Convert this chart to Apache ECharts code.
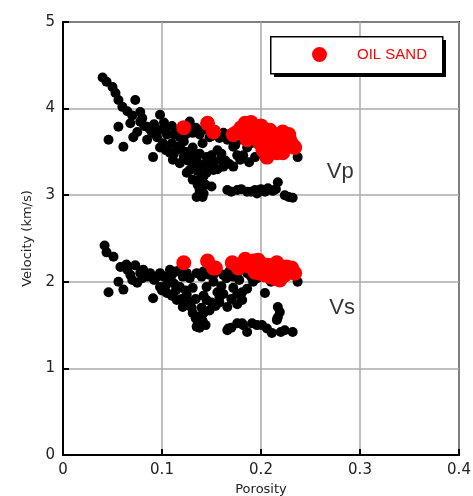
<!DOCTYPE html>
<html>
<head>
<meta charset="utf-8">
<script src="https://cdn.jsdelivr.net/npm/echarts@6/dist/echarts.min.js"></script>
<style>
  html, body { margin: 0; padding: 0; background: #fff; }
  #chart { width: 473px; height: 496px; }
</style>
</head>
<body>
<div id="chart"></div>
<script>
  // porosity / velocity pairs
  var vpBlack = [
    [0.040,4.36],[0.044,4.31],[0.050,4.25],[0.053,4.18],[0.056,4.10],[0.060,4.02],[0.073,4.10],[0.065,3.97],
    [0.070,3.92],[0.078,3.96],[0.080,3.89],[0.098,3.93],[0.056,3.79],[0.068,3.83],[0.046,3.64],[0.061,3.56],
    [0.071,3.67],[0.075,3.73],[0.085,3.64],[0.085,3.79],[0.078,3.85],[0.090,3.72],[0.095,3.67],[0.095,3.75],
    [0.091,3.44],[0.101,3.60],[0.105,3.79],[0.105,3.70],[0.108,3.49],[0.111,3.41],[0.115,3.56],[0.115,3.73],
    [0.118,3.67],[0.118,3.37],[0.122,3.62],[0.125,3.26],[0.125,3.50],[0.128,3.29],[0.128,3.85],[0.131,3.72],
    [0.131,3.18],[0.131,3.55],[0.135,3.41],[0.135,2.98],[0.138,3.18],[0.138,3.06],[0.141,2.98],[0.141,3.60],
    [0.141,3.35],[0.145,3.26],[0.145,3.44],[0.148,3.67],[0.150,3.10],[0.152,3.29],[0.154,3.75],[0.156,3.52],
    [0.159,3.41],[0.162,3.33],[0.166,3.06],[0.169,3.70],[0.172,3.33],[0.172,3.56],[0.174,3.58],[0.179,3.41],
    [0.184,3.64],[0.186,3.04],[0.186,3.55],[0.194,3.06],[0.194,3.44],[0.201,3.52],[0.207,3.08],[0.212,3.05],
    [0.217,3.15],[0.224,3.00],[0.232,2.97],[0.237,3.44],[0.176,3.06],[0.200,3.07],
    [0.082,3.80],[0.088,3.76],[0.092,3.82],[0.100,3.76],[0.102,3.84],[0.110,3.80],[0.112,3.70],[0.120,3.76],
    [0.124,3.70],[0.134,3.78],[0.138,3.70],[0.142,3.76],[0.150,3.68],[0.158,3.66],[0.162,3.72],[0.166,3.64],
    [0.178,3.64],[0.190,3.60],[0.098,3.55],[0.104,3.52],[0.110,3.60],[0.112,3.48],[0.120,3.52],[0.122,3.44],
    [0.126,3.40],[0.130,3.46],[0.132,3.34],[0.136,3.28],[0.138,3.48],[0.142,3.22],[0.144,3.12],[0.140,3.08],
    [0.146,3.36],[0.150,3.46],[0.152,3.38],[0.156,3.30],[0.160,3.48],[0.164,3.40],[0.168,3.36],[0.176,3.46],
    [0.182,3.46],[0.188,3.38],[0.142,3.02],[0.136,3.12],[0.170,3.04],[0.180,3.07],[0.190,3.04],[0.204,3.04],
    [0.215,3.07],[0.228,2.98],[0.196,3.02]
  ];
  var vsBlack = [
    [0.042,2.42],[0.044,2.34],[0.051,2.29],[0.058,2.17],[0.065,2.14],[0.073,2.19],[0.078,2.10],[0.081,2.14],
    [0.070,2.02],[0.075,1.99],[0.056,2.00],[0.046,1.88],[0.061,1.91],[0.085,2.06],[0.091,1.81],[0.095,2.06],
    [0.098,2.10],[0.098,1.94],[0.105,1.87],[0.108,2.02],[0.108,2.14],[0.115,1.79],[0.118,1.94],[0.118,2.14],
    [0.121,2.06],[0.121,1.71],[0.128,1.75],[0.131,1.64],[0.131,1.93],[0.135,2.10],[0.135,1.48],[0.138,1.52],
    [0.138,1.47],[0.138,1.60],[0.141,1.55],[0.145,1.94],[0.145,1.79],[0.148,2.08],[0.148,1.67],[0.156,1.88],
    [0.162,2.08],[0.166,1.71],[0.166,1.44],[0.167,1.46],[0.172,1.93],[0.172,2.06],[0.181,1.88],[0.181,1.79],
    [0.181,1.52],[0.182,1.50],[0.186,2.10],[0.186,1.42],[0.191,1.52],[0.192,2.00],[0.201,1.50],[0.204,1.87],
    [0.211,1.41],[0.216,1.56],[0.217,1.59],[0.219,1.65],[0.217,1.71],[0.224,1.44],[0.232,1.42],[0.237,2.00],
    [0.158,1.82],[0.125,1.85],[0.112,1.98],[0.152,2.00],[0.160,1.95],
    [0.088,2.10],[0.092,2.02],[0.102,2.06],[0.110,2.08],[0.114,2.12],[0.125,2.10],[0.128,2.04],[0.140,2.06],
    [0.142,2.12],[0.152,2.08],[0.156,2.12],[0.165,2.04],[0.168,2.12],[0.176,2.10],[0.178,2.02],[0.190,2.06],
    [0.196,2.04],[0.210,2.00],[0.064,2.20],[0.068,2.08],[0.080,2.04],[0.100,1.90],[0.104,1.96],[0.110,1.84],
    [0.114,1.90],[0.120,1.80],[0.124,1.90],[0.126,1.78],[0.130,1.70],[0.134,1.80],[0.134,1.58],[0.140,1.70],
    [0.142,1.84],[0.142,1.64],[0.136,1.54],[0.144,1.50],[0.150,1.76],[0.154,1.72],[0.158,1.76],[0.162,1.86],
    [0.170,1.80],[0.176,1.86],[0.186,1.92],[0.176,1.74],[0.170,1.47],[0.176,1.52],[0.196,1.50],[0.206,1.46],
    [0.220,1.42]
  ];
  var vpSand = [
    [0.122,3.78],[0.146,3.83],[0.152,3.73],[0.172,3.70],[0.176,3.73],[0.179,3.72],[0.184,3.83],[0.186,3.64],
    [0.192,3.67],[0.196,3.79],[0.199,3.60],[0.202,3.52],[0.206,3.44],[0.209,3.75],[0.212,3.64],[0.212,3.52],
    [0.216,3.49],[0.217,3.67],[0.222,3.73],[0.222,3.49],[0.226,3.56],[0.229,3.64],[0.232,3.58],
    [0.188,3.76],[0.194,3.70],[0.200,3.68],[0.204,3.76],[0.206,3.60],[0.210,3.56],[0.214,3.70],[0.218,3.60],
    [0.220,3.55],[0.224,3.62],[0.228,3.70],[0.234,3.55],[0.200,3.80],[0.190,3.84],[0.180,3.78]
  ];
  var vsSand = [
    [0.122,2.22],[0.146,2.24],[0.152,2.16],[0.154,2.16],[0.171,2.22],[0.177,2.16],[0.184,2.26],[0.194,2.11],
    [0.197,2.25],[0.199,2.10],[0.204,2.08],[0.207,2.19],[0.209,2.06],[0.212,2.17],[0.214,2.04],[0.217,2.17],
    [0.219,2.02],[0.224,2.08],[0.226,2.17],[0.231,2.16],[0.234,2.10],
    [0.180,2.20],[0.188,2.18],[0.192,2.24],[0.202,2.20],[0.206,2.12],[0.212,2.10],[0.220,2.12],[0.228,2.12],
    [0.216,2.22],[0.196,2.16]
  ];
  var curveLabels = [
    { name: 'Vp', value: [0.280, 3.27] },
    { name: 'Vs', value: [0.282, 1.70] }
  ];

  var font = 'DejaVu Sans';
  var chart = echarts.init(document.getElementById('chart'));
  var option = {
    animation: false,
    grid: {
      left: 63, right: 14, top: 22, bottom: 41,
      outerBoundsMode: 'none',
      show: true, borderColor: '#000', borderWidth: 2
    },
    // legend frame with its hard drop shadow
    graphic: [
      { type: 'rect', left: 274, top: 40, shape: { width: 172, height: 37 }, style: { fill: '#000' }, z: 10 },
      { type: 'rect', left: 270, top: 36, shape: { width: 172, height: 37 }, style: { fill: '#fff', stroke: '#000', lineWidth: 1.5 }, z: 11 }
    ],
    legend: {
      data: ['OIL SAND'],
      left: 312, top: 47,
      icon: 'circle',
      itemWidth: 15, itemHeight: 15,
      padding: 0,
      z: 20,
      textStyle: { color: '#ff0000', fontSize: 15, fontFamily: 'Liberation Sans', padding: [0, 0, 0, 25] }
    },
    xAxis: {
      type: 'value', min: 0, max: 0.4, interval: 0.1,
      name: 'Porosity', nameLocation: 'middle', nameGap: 27,
      nameTextStyle: { color: '#222', fontSize: 13, fontFamily: font },
      axisLine: { lineStyle: { color: '#000', width: 2 } },
      axisTick: { inside: true, length: 6, lineStyle: { color: '#000', width: 2 } },
      axisLabel: { color: '#222', fontSize: 15, fontFamily: font, margin: 8 },
      splitLine: { lineStyle: { color: '#aaa', width: 1.5 } }
    },
    yAxis: {
      type: 'value', min: 0, max: 5, interval: 1,
      name: 'Velocity (km/s)', nameLocation: 'middle', nameGap: 29,
      nameTextStyle: { color: '#222', fontSize: 13, fontFamily: font },
      axisLine: { lineStyle: { color: '#000', width: 2 } },
      axisTick: { inside: true, length: 6, lineStyle: { color: '#000', width: 2 } },
      axisLabel: { color: '#222', fontSize: 15, fontFamily: font, margin: 8 },
      splitLine: { lineStyle: { color: '#aaa', width: 1.5 } }
    },
    series: [
      { name: 'vp', type: 'scatter', data: vpBlack, symbolSize: 10, itemStyle: { color: '#000', opacity: 1 } },
      { name: 'vs', type: 'scatter', data: vsBlack, symbolSize: 10, itemStyle: { color: '#000', opacity: 1 } },
      { name: 'OIL SAND', type: 'scatter', data: vpSand, symbolSize: 15, itemStyle: { color: '#ff0000', opacity: 1 } },
      { name: 'OIL SAND', type: 'scatter', data: vsSand, symbolSize: 15, itemStyle: { color: '#ff0000', opacity: 1 } },
      {
        name: 'labels', type: 'scatter', data: curveLabels, symbolSize: 0, silent: true,
        label: { show: true, position: 'inside', formatter: '{b}', color: '#000', fontSize: 22, fontFamily: 'Liberation Sans' }
      }
    ]
  };
  chart.setOption(option);
</script>
</body>
</html>
